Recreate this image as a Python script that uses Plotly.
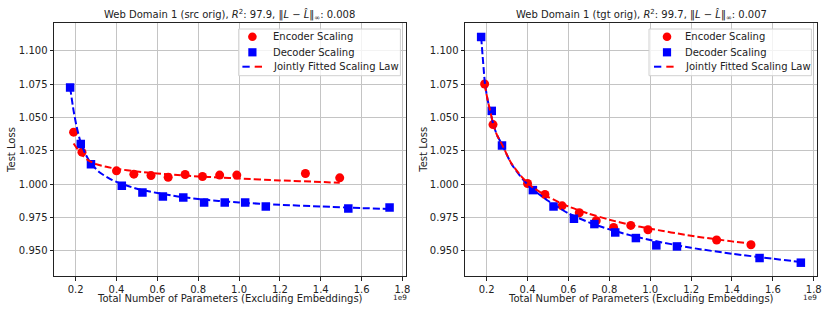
import plotly.graph_objects as go

# ---------------- data (x in units of 1e9 parameters) ----------------
enc_x = [0.19, 0.231, 0.400, 0.485, 0.569, 0.653, 0.736, 0.821, 0.905, 0.989, 1.325, 1.493]
dec_x = [0.173, 0.225, 0.275, 0.426, 0.527, 0.627, 0.727, 0.829, 0.930, 1.030, 1.131, 1.535, 1.737]

src_enc_y = [1.039, 1.024, 1.010, 1.0075, 1.0065, 1.0052, 1.0072, 1.0057, 1.0068, 1.0068, 1.008, 1.0047]
src_dec_y = [1.0725, 1.0302, 1.015, 0.9987, 0.9937, 0.9907, 0.990, 0.9862, 0.9862, 0.9862, 0.9832, 0.9817, 0.9825]

tgt_enc_y = [1.0752, 1.0447, 1.0005, 0.9922, 0.9837, 0.9785, 0.9725, 0.9675, 0.969, 0.9657, 0.958, 0.9545]
tgt_dec_y = [1.1105, 1.055, 1.029, 0.9955, 0.9832, 0.974, 0.970, 0.9637, 0.9595, 0.954, 0.9532, 0.9445, 0.941]

# fitted scaling-law curves
src_fit_dec_x = [0.173, 0.19, 0.205, 0.225, 0.25, 0.275, 0.32, 0.38, 0.43, 0.5, 0.6, 0.7, 0.8, 0.9, 1.0, 1.2, 1.4, 1.6, 1.737]
src_fit_dec_y = [1.0725, 1.055, 1.043, 1.031, 1.022, 1.0155, 1.0085, 1.003, 1.0, 0.9965, 0.9933, 0.9907, 0.9888, 0.9874, 0.9862, 0.9845, 0.9832, 0.982, 0.9813]
src_fit_enc_x = [0.19, 0.21, 0.231, 0.26, 0.3, 0.35, 0.4, 0.5, 0.6, 0.7, 0.8, 0.9, 1.0, 1.2, 1.4, 1.493]
src_fit_enc_y = [1.0305, 1.026, 1.022, 1.018, 1.015, 1.013, 1.0115, 1.0095, 1.008, 1.0068, 1.0058, 1.005, 1.0042, 1.0028, 1.0016, 1.001]

tgt_fit_dec_x = [0.173, 0.185, 0.192, 0.205, 0.22, 0.232, 0.25, 0.276, 0.32, 0.38, 0.426, 0.5, 0.6, 0.7, 0.8, 0.9, 1.0, 1.2, 1.4, 1.6, 1.737]
tgt_fit_dec_y = [1.1105, 1.087, 1.075, 1.063, 1.053, 1.045, 1.037, 1.0295, 1.0155, 1.003, 0.996, 0.9875, 0.978, 0.9713, 0.966, 0.9617, 0.958, 0.9522, 0.9477, 0.944, 0.9415]
tgt_fit_enc_x = [0.19, 0.205, 0.22, 0.232, 0.25, 0.276, 0.32, 0.38, 0.426, 0.5, 0.6, 0.7, 0.8, 0.9, 1.0, 1.2, 1.4, 1.493]
tgt_fit_enc_y = [1.0752, 1.063, 1.053, 1.045, 1.037, 1.0295, 1.0158, 1.004, 0.9975, 0.9905, 0.9832, 0.9778, 0.9733, 0.9695, 0.9665, 0.9612, 0.957, 0.9553]

titles = [
    "Web Domain 1 (src orig), <i>R</i><sup>2</sup>: 97.9, \u2016<i>L</i> \u2212 <i>L\u0302</i>\u2016<sub>\u221e</sub>: 0.008",
    "Web Domain 1 (tgt orig), <i>R</i><sup>2</sup>: 99.7, \u2016<i>L</i> \u2212 <i>L\u0302</i>\u2016<sub>\u221e</sub>: 0.007",
]
x_ticks = [0.2, 0.4, 0.6, 0.8, 1.0, 1.2, 1.4, 1.6, 1.8]
y_ticks = [0.950, 0.975, 1.000, 1.025, 1.050, 1.075, 1.100]
legend_labels = ["Encoder Scaling", "Decoder Scaling", "Jointly Fitted Scaling Law"]

# ---------------- layout constants ----------------
W, H = 830, 312
ML, MR, MT, MB = 54.3, 12.7, 23, 36
PW, PH = W - ML - MR, H - MT - MB
FONT = "DejaVu Sans"
FS = 10
TXT = "#222222"
RED, BLUE = "#ff0000", "#0000ff"
ax_px = [(54.3, 406.0), (465.3, 817.3)]
x_range = [0.094, 1.816]
y_range = [0.931, 1.121]


def px_x(px):
    return (px - ML) / PW


def px_y(py):
    return (H - MB - py) / PH


x_domains = [[px_x(a), min(1.0, px_x(b))] for a, b in ax_px]

panels = [
    (src_enc_y, src_dec_y, src_fit_enc_x, src_fit_enc_y, src_fit_dec_x, src_fit_dec_y),
    (tgt_enc_y, tgt_dec_y, tgt_fit_enc_x, tgt_fit_enc_y, tgt_fit_dec_x, tgt_fit_dec_y),
]

fig = go.Figure()
shapes = []
annotations = []

for i, (ey, dy, fex, fey, fdx, fdy) in enumerate(panels):
    xa = "x" if i == 0 else "x2"
    ya = "y" if i == 0 else "y2"
    fig.add_trace(go.Scatter(x=enc_x, y=ey, mode="markers", xaxis=xa, yaxis=ya,
                             marker=dict(symbol="circle", size=9, color=RED, line=dict(width=0)),
                             showlegend=False))
    fig.add_trace(go.Scatter(x=dec_x, y=dy, mode="markers", xaxis=xa, yaxis=ya,
                             marker=dict(symbol="square", size=8.5, color=BLUE, line=dict(width=0)),
                             showlegend=False))
    fig.add_trace(go.Scatter(x=fdx, y=fdy, mode="lines", xaxis=xa, yaxis=ya,
                             line=dict(color=BLUE, width=2, dash="7px,3px", shape="spline", smoothing=0.6),
                             showlegend=False))
    fig.add_trace(go.Scatter(x=fex, y=fey, mode="lines", xaxis=xa, yaxis=ya,
                             line=dict(color=RED, width=2, dash="7px,3px", shape="spline", smoothing=0.6),
                             showlegend=False))

    a0, a1 = ax_px[i]
    off = a0 - ax_px[0][0]  # horizontal offset of this panel in px
    # legend box
    bx0 = 239 + off + (0 if i == 0 else -0.7)
    bx1 = 400.7 + off
    shapes.append(dict(type="rect", xref="paper", yref="paper",
                       x0=px_x(bx0), x1=px_x(bx1), y0=px_y(75.7), y1=px_y(29),
                       line=dict(color="#d0d0d0", width=1), fillcolor="rgba(255,255,255,0.8)",
                       layer="above"))
    mx = 252.7 + off + (0 if i == 0 else 3.6)
    rows = [36.7, 52.3, 66.7]
    r = 4.3
    shapes.append(dict(type="circle", xref="paper", yref="paper",
                       x0=px_x(mx - r), x1=px_x(mx + r), y0=px_y(rows[0] + r), y1=px_y(rows[0] - r),
                       fillcolor=RED, line=dict(width=0), layer="above"))
    s = 4.1
    shapes.append(dict(type="rect", xref="paper", yref="paper",
                       x0=px_x(mx - s), x1=px_x(mx + s), y0=px_y(rows[1] + s), y1=px_y(rows[1] - s),
                       fillcolor=BLUE, line=dict(width=0), layer="above"))
    lx = 242.7 + off + (0 if i == 0 else 0.6)
    shapes.append(dict(type="line", xref="paper", yref="paper",
                       x0=px_x(lx), x1=px_x(lx + 7.3), y0=px_y(rows[2]), y1=px_y(rows[2]),
                       line=dict(color=BLUE, width=2), layer="above"))
    shapes.append(dict(type="line", xref="paper", yref="paper",
                       x0=px_x(lx + 12.3), x1=px_x(lx + 19.6), y0=px_y(rows[2]), y1=px_y(rows[2]),
                       line=dict(color=RED, width=2), layer="above"))
    tx = 271 + off + (0 if i == 0 else 1.4)
    for lab, ry in zip(legend_labels, rows):
        annotations.append(dict(text=lab, xref="paper", yref="paper", x=px_x(tx), y=px_y(ry),
                                xanchor="left", yanchor="middle", showarrow=False,
                                font=dict(family=FONT, size=FS, color=TXT)))

    cx = px_x((a0 + a1) / 2)
    annotations.append(dict(text=titles[i], xref="paper", yref="paper", x=cx, y=px_y(15),
                            xanchor="center", yanchor="middle", showarrow=False,
                            font=dict(family=FONT, size=FS, color=TXT)))
    annotations.append(dict(text="Total Number of Parameters (Excluding Embeddings)",
                            xref="paper", yref="paper", x=cx, y=px_y(298.5),
                            xanchor="center", yanchor="middle", showarrow=False,
                            font=dict(family=FONT, size=FS, color=TXT)))
    annotations.append(dict(text="1e9", xref="paper", yref="paper",
                            x=px_x(400 + 410.3 * i), y=px_y(297.5),
                            xanchor="center", yanchor="middle", showarrow=False,
                            font=dict(family=FONT, size=7.3, color=TXT)))
    annotations.append(dict(text="Test Loss", xref="paper", yref="paper",
                            x=px_x(11.7 + 411.8 * i), y=px_y(149.5), textangle=-90,
                            xanchor="center", yanchor="middle", showarrow=False,
                            font=dict(family=FONT, size=FS, color=TXT)))

axis_common = dict(showgrid=True, gridcolor="#c4c4c4", gridwidth=1,
                   showline=True, mirror=True, linecolor=TXT, linewidth=1,
                   ticks="outside", ticklen=3.5, tickwidth=1, tickcolor=TXT,
                   zeroline=False, automargin=False,
                   tickfont=dict(family=FONT, size=FS, color=TXT))

layout = dict(
    width=W, height=H,
    margin=dict(l=ML, r=MR, t=MT, b=MB, autoexpand=False),
    paper_bgcolor="white", plot_bgcolor="white",
    showlegend=False,
    shapes=shapes, annotations=annotations,
)
for i in range(2):
    sfx = "" if i == 0 else "2"
    layout["xaxis" + sfx] = dict(axis_common, domain=x_domains[i], range=x_range,
                                 tickvals=x_ticks, tickformat=".1f",
                                 anchor="y" + sfx)
    layout["yaxis" + sfx] = dict(axis_common, domain=[0, 1], range=y_range,
                                 tickvals=y_ticks, tickformat=".3f",
                                 anchor="x" + sfx)

fig.update_layout(**layout)
fig.write_html("out.html", config={"displayModeBar": False},
               post_script="document.body.style.margin='0';document.body.style.overflow='hidden';")
